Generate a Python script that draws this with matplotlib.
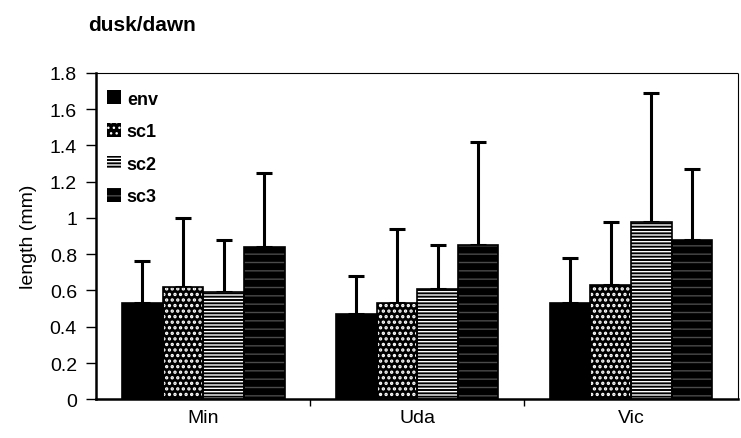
import numpy as np
import matplotlib.pyplot as plt

plt.rcParams["font.family"] = ["Liberation Sans", "DejaVu Sans"]

# datos (media y extremo superior de la barra de error)
sites = ["Min", "Uda", "Vic"]
series = ["env", "sc1", "sc2", "sc3"]
env = [0.53, 0.47, 0.53]
sc1 = [0.62, 0.53, 0.63]
sc2 = [0.59, 0.61, 0.98]
sc3 = [0.84, 0.85, 0.88]
env_top = [0.76, 0.68, 0.78]
sc1_top = [1.00, 0.94, 0.98]
sc2_top = [0.88, 0.85, 1.69]
sc3_top = [1.25, 1.42, 1.27]
yticks = [0, 0.2, 0.4, 0.6, 0.8, 1, 1.2, 1.4, 1.6, 1.8]
ytick_labels = ["0", "0.2", "0.4", "0.6", "0.8", "1", "1.2", "1.4", "1.6", "1.8"]

means = [env, sc1, sc2, sc3]
tops = [env_top, sc1_top, sc2_top, sc3_top]
# (fondo, color de trama, trama, grosor de trama)
estilos = [
    ("black", "black", None, 1.0),
    ("black", "white", "...", 1.6),
    ("black", "white", "-----", 1.0),
    ("black", "#4a4a4a", "--", 1.0),
]

fig = plt.figure(figsize=(7.41, 4.39), dpi=100)
ax = fig.add_axes([0.13, 0.088, 0.866, 0.744])

x = np.arange(len(sites))
w = 0.19
offsets = (np.arange(len(series)) - 1.5) * w

handles = []
for i, name in enumerate(series):
    xs = x + offsets[i]
    m = np.array(means[i])
    err = np.array(tops[i]) - m
    fc, hc, hatch, hlw = estilos[i]
    with plt.rc_context({"hatch.linewidth": hlw}):
        b = ax.bar(xs, m, w, color=fc, edgecolor=hc, hatch=hatch,
                   linewidth=0, zorder=2)
    ax.bar(xs, m, w, fill=False, edgecolor="black", linewidth=1.2, zorder=3)
    ax.errorbar(xs, m, yerr=[np.zeros_like(err), err], fmt="none",
                ecolor="black", elinewidth=2.2, capsize=5.5, capthick=2.2, zorder=1)
    handles.append(b)

ax.set_xlim(-0.5, 2.5)
ax.set_ylim(0, 1.8)
ax.set_yticks(yticks)
ax.set_yticklabels(ytick_labels, fontsize=14)
ax.set_xticks(x)
ax.set_xticklabels(sites, fontsize=14)
ax.set_xticks([0.5, 1.5], minor=True)
ax.tick_params(axis="x", which="major", length=0, pad=7)
ax.tick_params(axis="x", which="minor", length=5, width=1)
ax.tick_params(axis="y", length=7, width=1, direction="out", pad=7)
ax.set_ylabel("length (mm)", fontsize=14, labelpad=9)

for s in ["left", "bottom"]:
    ax.spines[s].set_linewidth(1.8)
for s in ["top", "right"]:
    ax.spines[s].set_linewidth(0.8)
    ax.spines[s].set_linestyle((0, (1, 1)))

leg = ax.legend(handles, series, loc="upper left", frameon=False, fontsize=13,
                handlelength=0.8, handleheight=0.8, handletextpad=0.3,
                labelspacing=0.85, borderaxespad=0.4,
                bbox_to_anchor=(-0.006, 0.99))
for t in leg.get_texts():
    t.set_fontweight("bold")

fig.text(0.119, 0.93, "dusk/dawn", fontsize=15, fontweight="bold")

fig.savefig("out.png", dpi=100)
